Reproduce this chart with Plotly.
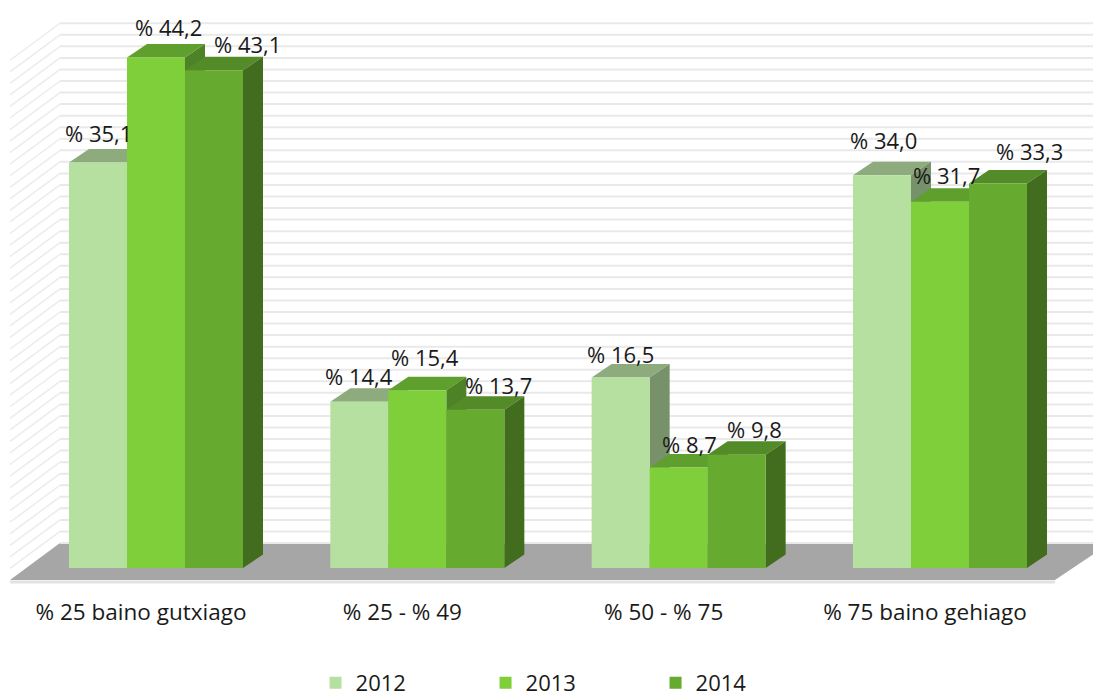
import plotly.graph_objects as go

# ---------------- data ----------------
categories = ["% 25 baino gutxiago", "% 25 - % 49", "% 50 - % 75", "% 75 baino gehiago"]
years = ["2012", "2013", "2014"]
values_2012 = [35.1, 14.4, 16.5, 34.0]
values_2013 = [44.2, 15.4, 8.7, 31.7]
values_2014 = [43.1, 13.7, 9.8, 33.3]
series_values = [values_2012, values_2013, values_2014]

# ---------------- style ----------------
front_colors = ["#b6e0a0", "#7fcf3b", "#66aa2f"]
top_colors = ["#8dab7c", "#5f9f2e", "#528b27"]
side_colors = ["#77926a", "#4d8326", "#426c1e"]
FONT = "Open Sans"
TXT = "#1a1a1a"

# label nudges (px) : (right, up) relative to bar centre / back top edge
label_nudges = [
    [(0, 16.5), (0, 12), (0, 10.4), (2, 21.8)],
    [(12, 16.5), (8, 20), (11, 10.5), (7, 13.4)],
    [(33, 12.7), (23, 11), (18, 12.8), (32, 18.4)],
]

# ---------------- geometry (pixel <-> axis) ----------------
W, H = 1093, 697
PLOT_H = 584
PX_PER_X = 261.33
X0_PX = 156.0          # pixel of category 0 centre
PX_PER_Y = 11.55
Y0_PX = 568.0          # pixel of value 0 (front baseline)

x_range = [(0 - X0_PX) / PX_PER_X, (W - X0_PX) / PX_PER_X]
y_range = [(Y0_PX - PLOT_H) / PX_PER_Y, Y0_PX / PX_PER_Y]


def dx(px):
    return (px - X0_PX) / PX_PER_X


def dy(py):
    return (Y0_PX - py) / PX_PER_Y


BAR_W = 58 / PX_PER_X
DEPTH_X = 20 / PX_PER_X
DEPTH_Y_PX = 13.5
DEPTH_Y = DEPTH_Y_PX / PX_PER_Y
offsets = [(-1.5 + j) * BAR_W for j in range(3)]

fig = go.Figure()

# ---------------- 3D faces (top + side), drawn left to right ----------------
for j, vals in enumerate(series_values):
    tx, ty, sx, sy = [], [], [], []
    for i, v in enumerate(vals):
        L = i + offsets[j]
        R = L + BAR_W
        tx += [L, R, R + DEPTH_X, L + DEPTH_X, L, None]
        ty += [v, v, v + DEPTH_Y, v + DEPTH_Y, v, None]
        sx += [R, R + DEPTH_X, R + DEPTH_X, R, R, None]
        sy += [0, DEPTH_Y, v + DEPTH_Y, v, 0, None]
    fig.add_trace(go.Scatter(x=tx, y=ty, mode="lines", fill="toself",
                             fillcolor=top_colors[j], line=dict(width=0, color=top_colors[j]),
                             showlegend=False, hoverinfo="skip", xaxis="x", yaxis="y"))
    fig.add_trace(go.Scatter(x=sx, y=sy, mode="lines", fill="toself",
                             fillcolor=side_colors[j], line=dict(width=0, color=side_colors[j]),
                             showlegend=False, hoverinfo="skip", xaxis="x", yaxis="y"))

# ---------------- front faces (bars) on overlay axes ----------------
for j, vals in enumerate(series_values):
    fig.add_trace(go.Bar(
        x=list(range(len(categories))), y=vals, name=years[j],
        offset=offsets[j], width=BAR_W,
        marker=dict(color=front_colors[j], line=dict(width=0)),
        xaxis="x2", yaxis="y2", hoverinfo="skip",
    ))

# ---------------- data labels ----------------
annotations = []
for j, vals in enumerate(series_values):
    for i, v in enumerate(vals):
        nx, ny = label_nudges[j][i]
        annotations.append(dict(
            x=i + offsets[j] + BAR_W / 2, y=v, xref="x", yref="y",
            text=("% " + f"{v:.1f}").replace(".", ","),
            showarrow=False, xanchor="center", yanchor="middle",
            xshift=nx, yshift=DEPTH_Y_PX + ny,
            font=dict(family=FONT, size=22, color=TXT),
        ))

# ---------------- floor and walls ----------------
shapes = []
floor_pts = [(10, 580), (1055, 580), (1110, 543), (60, 543)]
path = "M " + " L ".join(f"{dx(px)},{dy(py)}" for px, py in floor_pts) + " Z"
shapes.append(dict(type="path", path=path, xref="x", yref="y",
                   fillcolor="#a6a6a6", line=dict(width=0), layer="below"))
shapes.append(dict(type="line", xref="x", yref="y", x0=dx(10), x1=dx(1055), y0=dy(582), y1=dy(582),
                   line=dict(color="#e2e2e2", width=3), layer="below"))
for k in range(46):
    yb = 543 - k * PX_PER_Y
    shapes.append(dict(type="line", xref="x", yref="y", x0=dx(60), x1=dx(1100),
                       y0=dy(yb), y1=dy(yb), line=dict(color="#e9e9e9", width=2), layer="below"))
    if k > 0:
        shapes.append(dict(type="line", xref="x", yref="y", x0=dx(60), x1=dx(10),
                           y0=dy(yb), y1=dy(yb + 37), line=dict(color="#ececec", width=1.5),
                           layer="below"))

tickvals = [i - 15 / PX_PER_X for i in range(len(categories))]
legend_y = (PLOT_H - 683) / PLOT_H

fig.update_layout(
    width=W, height=H,
    margin=dict(l=0, r=0, t=0, b=H - PLOT_H, pad=0, autoexpand=False),
    paper_bgcolor="white", plot_bgcolor="white",
    barmode="overlay",
    font=dict(family=FONT, color=TXT),
    xaxis=dict(range=x_range, tickvals=tickvals, ticktext=categories,
               showgrid=False, zeroline=False, showline=False,
               ticks="outside", ticklen=8, tickcolor="rgba(0,0,0,0)",
               tickfont=dict(family=FONT, size=22.5, color=TXT), fixedrange=True),
    yaxis=dict(range=y_range, visible=False, fixedrange=True),
    xaxis2=dict(range=x_range, overlaying="x", visible=False, fixedrange=True),
    yaxis2=dict(range=y_range, overlaying="y", visible=False, fixedrange=True),
    legend=dict(orientation="h", x=0.522, xanchor="center", y=legend_y, yanchor="middle",
                font=dict(family=FONT, size=22, color=TXT),
                entrywidth=125, entrywidthmode="pixels", bgcolor="rgba(0,0,0,0)"),
    annotations=annotations,
    shapes=shapes,
    showlegend=True,
)

fig.write_html("out.html", config={"displayModeBar": False},
               post_script="document.body.style.margin='0';document.body.style.overflow='hidden';")
